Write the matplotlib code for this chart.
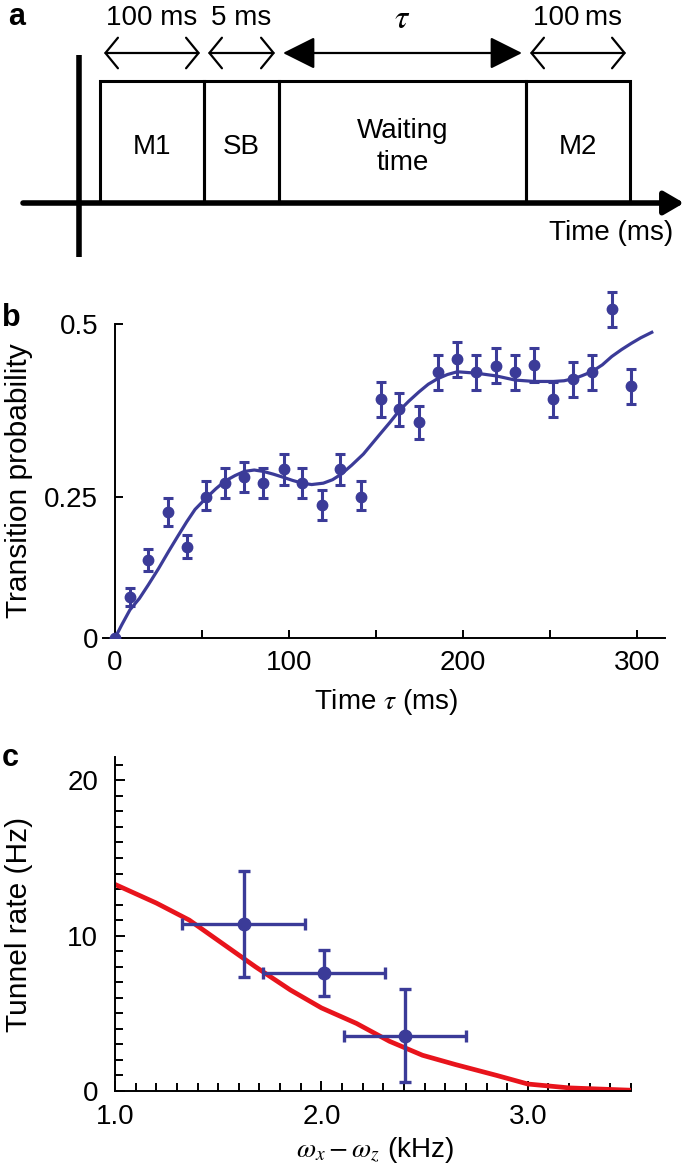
import numpy as np
import matplotlib
matplotlib.use("Agg")
import matplotlib.pyplot as plt
from matplotlib.patches import Rectangle
from matplotlib.ticker import FixedLocator, MultipleLocator

plt.rcParams["font.family"] = ["Liberation Sans", "DejaVu Sans"]
plt.rcParams["mathtext.fontset"] = "stix"
plt.rcParams["font.size"] = 20

BLUE = "#3b3b98"
RED = "#e8141c"

# panel a: measurement sequence (schematic positions, not to scale)
seg_names = ["M1", "SB", "Waiting\ntime", "M2"]
seg_edges = [100, 204, 279, 526, 630]
seg_durations = ["100 ms", "5 ms", r"$\tau$", "100\u2009ms"]

# panel b: transition probability vs waiting time
tau_ms = [0, 8.6, 19.1, 30.7, 41.2, 52.3, 63.2, 74.3, 84.8, 97.3, 107.6, 119.1, 129.5, 141.2,
          152.7, 163.4, 174.7, 185.4, 196.7, 207.5, 219.0, 229.9, 241.0, 251.9, 263.4, 273.9,
          285.4, 296.6]
prob = [0.0, 0.073, 0.138, 0.223, 0.162, 0.25, 0.27, 0.279, 0.27, 0.29, 0.27, 0.235, 0.29, 0.25,
        0.391, 0.377, 0.358, 0.430, 0.449, 0.430, 0.440, 0.430, 0.441, 0.391, 0.420, 0.430,
        0.521, 0.410]
prob_err = [0, 0.016, 0.020, 0.025, 0.021, 0.023, 0.022, 0.022, 0.022, 0.022, 0.022, 0.025, 0.022,
            0.023, 0.025, 0.024, 0.024, 0.025, 0.025, 0.025, 0.025, 0.025, 0.025, 0.025, 0.025,
            0.025, 0.025, 0.025]
fit_tau = [0, 4, 8.6, 14, 19.1, 25, 30.7, 36, 41.2, 46, 52.3, 58, 63.2, 69, 74.3, 80, 85.2, 91,
           97.3, 102, 107.6, 113, 119.7, 125, 130, 136, 142.7, 147, 152.3, 158, 163.4, 169,
           174.7, 180, 185.4, 191, 196.7, 207.5, 219, 229.9, 241, 251.9, 258, 263.4, 268,
           273.9, 280, 285.4, 291, 296.6, 302, 308.4]
fit_prob = [0, 0.024, 0.050, 0.070, 0.094, 0.123, 0.153, 0.180, 0.206, 0.228, 0.248, 0.262, 0.273,
            0.281, 0.287, 0.289, 0.287, 0.283, 0.278, 0.274, 0.270, 0.268, 0.270, 0.275, 0.283,
            0.296, 0.312, 0.325, 0.341, 0.358, 0.375, 0.389, 0.402, 0.413, 0.421, 0.427, 0.431,
            0.429, 0.425, 0.419, 0.417, 0.417, 0.418, 0.421, 0.425, 0.431, 0.441, 0.453, 0.463,
            0.472, 0.480, 0.488]

# panel c: tunnel rate vs trap frequency difference
freq_khz = [1.623, 2.014, 2.406]
freq_err = [0.296, 0.296, 0.295]
rate_hz = [10.77, 7.59, 3.57]
rate_err = [3.4, 1.5, 3.0]
theory_khz = [1.0, 1.2, 1.36, 1.52, 1.68, 1.85, 2.0, 2.17, 2.33, 2.49, 2.65, 2.75, 2.85, 3.0,
              3.2, 3.5]
theory_hz = [13.3, 12.1, 11.0, 9.5, 8.0, 6.5, 5.35, 4.35, 3.2, 2.3, 1.7, 1.35, 1.0, 0.45, 0.2, 0.05]

W, H = 685, 1170
fig = plt.figure(figsize=(W / 100, H / 100), dpi=100)

# ---------------- panel a ----------------
ax_a = fig.add_axes([0, 1 - 260 / H, 1, 260 / H])
ax_a.set_xlim(0, W)
ax_a.set_ylim(260, 0)
ax_a.axis("off")

axis_y, box_top, arrow_y = 203, 81, 53
for i, name in enumerate(seg_names):
    x0, x1 = seg_edges[i], seg_edges[i + 1]
    ax_a.add_patch(Rectangle((x0, box_top), x1 - x0, axis_y - box_top,
                             fill=False, lw=2.2, ec="k"))
    ax_a.text((x0 + x1) / 2, 147, name, ha="center", va="center", fontsize=20,
              linespacing=1.25)
    big = seg_durations[i] == r"$\tau$"
    style = ("<|-|>,head_length=1.0,head_width=0.5" if big
             else "<->,head_length=0.45,head_width=0.55")
    ax_a.annotate("", xy=(x1 - 4, arrow_y), xytext=(x0 + 4, arrow_y),
                  arrowprops=dict(arrowstyle=style, lw=1.6, color="k",
                                  shrinkA=0, shrinkB=0, mutation_scale=20))
    ax_a.text((x0 + x1) / 2, 20 if big else 18, seg_durations[i], ha="center",
              va="center", fontsize=24 if big else 20)

ax_a.annotate("", xy=(684, axis_y), xytext=(23, axis_y),
              arrowprops=dict(arrowstyle="-|>,head_length=0.6,head_width=0.35", lw=4,
                              color="k", shrinkA=0, shrinkB=0, mutation_scale=20))
ax_a.plot([79, 79], [55, 257], lw=4, color="k", solid_capstyle="butt")
ax_a.text(673, 233, "Time (ms)", ha="right", va="center", fontsize=20)
fig.text(8 / W, 1 - 2 / H, "a", fontsize=22, fontweight="bold", ha="left", va="top")

# ---------------- panel b ----------------
def fwd(v):
    v = np.asarray(v, dtype=float)
    return np.where(v < 0.25, v * 564.0, 141.0 + (v - 0.25) * 692.0)


def inv(p):
    p = np.asarray(p, dtype=float)
    return np.where(p < 141.0, p / 564.0, 0.25 + (p - 141.0) / 692.0)


ax_b = fig.add_axes([102.8 / W, 1 - 638 / H, (665 - 102.8) / W, 355.5 / H])
ax_b.set_yscale("function", functions=(fwd, inv))
ax_b.plot(fit_tau, fit_prob, color=BLUE, lw=2.3, zorder=2)
ax_b.errorbar(tau_ms, prob, yerr=prob_err, fmt="o", ms=7.5, color=BLUE, ecolor=BLUE,
              elinewidth=2.2, capsize=3.3, capthick=2.2, zorder=3)
ax_b.set_xlim(-7, 316)
ax_b.set_ylim(0, 0.56)
for s in ["top", "right"]:
    ax_b.spines[s].set_visible(False)
ax_b.spines["left"].set_position(("data", 0))
ax_b.spines["left"].set_bounds(0, 0.5)
for s in ["left", "bottom"]:
    ax_b.spines[s].set_linewidth(1.4)
ax_b.yaxis.set_major_locator(FixedLocator([0, 0.25, 0.5]))
ax_b.set_yticklabels(["0", "0.25", "0.5"])
ax_b.yaxis.set_minor_locator(FixedLocator([]))
ax_b.xaxis.set_major_locator(FixedLocator([0, 100, 200, 300]))
ax_b.xaxis.set_minor_locator(FixedLocator([50, 150, 250]))
ax_b.tick_params(axis="both", which="both", direction="in", length=6, width=1.4,
                 labelsize=20)
ax_b.tick_params(axis="y", pad=12)
ax_b.tick_params(axis="x", pad=9)
ax_b.set_ylabel("Transition probability", fontsize=21.5)
ax_b.yaxis.set_label_coords(-0.124, 0.444)
ax_b.set_xlabel(r"Time $\tau$ (ms)", fontsize=20)
ax_b.xaxis.set_label_coords(0.504, -0.138)
fig.text(2 / W, 1 - 303 / H, "b", fontsize=22, fontweight="bold", ha="left", va="top")

# ---------------- panel c ----------------
ax_c = fig.add_axes([115 / W, 1 - 1091 / H, (631 - 115) / W, (1091 - 757) / H])
ax_c.plot(theory_khz, theory_hz, color=RED, lw=3.4, zorder=2, solid_capstyle="butt")
ax_c.errorbar(freq_khz, rate_hz, xerr=freq_err, yerr=rate_err, fmt="o", ms=9, color=BLUE,
              ecolor=BLUE, elinewidth=2.4, capsize=4.5, capthick=2.4, zorder=3)
ax_c.set_xlim(1.0, 3.5)
ax_c.set_ylim(0, 21.5)
for s in ["top", "right"]:
    ax_c.spines[s].set_visible(False)
for s in ["left", "bottom"]:
    ax_c.spines[s].set_linewidth(1.4)
ax_c.xaxis.set_major_locator(FixedLocator([1.0, 2.0, 3.0]))
ax_c.set_xticklabels(["1.0", "2.0", "3.0"])
ax_c.xaxis.set_minor_locator(MultipleLocator(0.1))
ax_c.yaxis.set_major_locator(FixedLocator([0, 10, 20]))
ax_c.yaxis.set_minor_locator(MultipleLocator(1))
ax_c.tick_params(axis="both", which="major", direction="in", length=7.5, width=1.4,
                 labelsize=20)
ax_c.tick_params(axis="both", which="minor", direction="in", length=5.5, width=1.4)
ax_c.tick_params(axis="y", pad=12)
ax_c.tick_params(axis="x", pad=9)
ax_c.set_ylabel("Tunnel rate (Hz)", fontsize=21.5)
ax_c.yaxis.set_label_coords(-0.159, 0.5)
ax_c.set_xlabel(r"$\omega_x - \omega_z$ (kHz)", fontsize=20)
ax_c.xaxis.set_label_coords(0.504, -0.132)
fig.text(2 / W, 1 - 743 / H, "c", fontsize=22, fontweight="bold", ha="left", va="top")

fig.savefig("out.png", dpi=100)
